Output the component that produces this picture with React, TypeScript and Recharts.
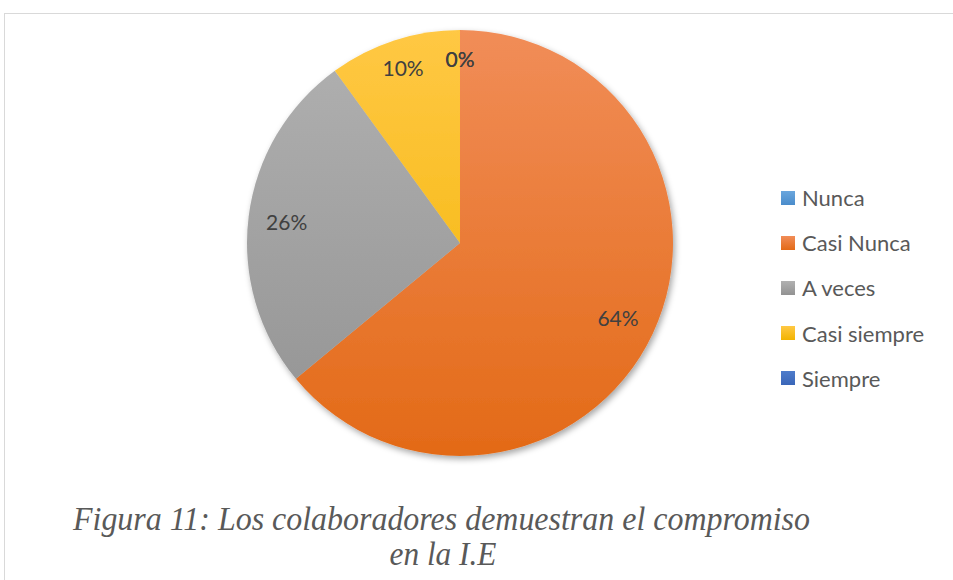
import { PieChart, Pie, Cell, Legend } from 'recharts'

const categories = ['Nunca', 'Casi Nunca', 'A veces', 'Casi siempre', 'Siempre']
const counts = [0, 32, 13, 5, 0]
const topColors = ['#6AA6DD', '#F18D58', '#B1B1B1', '#FFC844', '#4E7CCB']
const bottomColors = ['#4A8CCB', '#E36A17', '#929292', '#F2B300', '#3A66B8']
const captionLines = ['Figura 11: Los colaboradores demuestran el compromiso', 'en la I.E']

const data = categories.map((name, i) => ({ name, value: counts[i] }))

const RADIAN = Math.PI / 180

function renderLabel(props: any) {
  const { cx, cy, midAngle, outerRadius, percent } = props
  const r = percent < 0.15 ? outerRadius * 0.865 : outerRadius * 0.82
  const x = cx + r * Math.cos(-midAngle * RADIAN)
  const y = cy + r * Math.sin(-midAngle * RADIAN)
  return (
    <text
      x={x}
      y={y}
      fill="#404040"
      fontSize={21}
      fontFamily="Lato, sans-serif"
      textAnchor="middle"
      dominantBaseline="central"
    >
      {`${Math.round(percent * 100)}%`}
    </text>
  )
}

function LegendContent() {
  return (
    <div style={{ fontFamily: 'Lato, sans-serif', fontSize: 22, color: '#595959' }}>
      {categories.map((name, i) => (
        <div key={name} style={{ display: 'flex', alignItems: 'center', height: 45.2 }}>
          <span
            style={{
              width: 14,
              height: 14,
              marginRight: 7,
              background: `linear-gradient(${topColors[i]}, ${bottomColors[i]})`,
            }}
          />
          <span>{name}</span>
        </div>
      ))}
    </div>
  )
}

export default function App() {
  return (
    <div style={{ position: 'absolute', left: 0, top: 0, width: 953, height: 580, background: '#fff', overflow: 'hidden' }}>
      <style>{'.recharts-pie { filter: url(#pieShadow); }'}</style>
      <div
        style={{
          position: 'absolute',
          left: 4,
          top: 13,
          width: 980,
          height: 600,
          border: '1px solid #d9d9d9',
        }}
      />
      <PieChart
        width={953}
        height={580}
        margin={{ top: 0, right: 0, bottom: 0, left: 0 }}
        style={{ position: 'absolute', left: 0, top: 0 }}
      >
        <defs>
          {categories.map((name, i) => (
            <linearGradient key={name} id={`grad${i}`} x1="0" y1="30" x2="0" y2="456" gradientUnits="userSpaceOnUse">
              <stop offset="0%" stopColor={topColors[i]} />
              <stop offset="100%" stopColor={bottomColors[i]} />
            </linearGradient>
          ))}
          <filter id="pieShadow" x="-10%" y="-10%" width="125%" height="125%">
            <feDropShadow dx="2" dy="3" stdDeviation="3" floodColor="#000" floodOpacity="0.35" />
          </filter>
        </defs>
        <Pie
          data={data}
          dataKey="value"
          nameKey="name"
          cx={460}
          cy={243}
          outerRadius={213}
          startAngle={90}
          endAngle={-270}
          stroke="none"
          label={renderLabel}
          labelLine={false}
          isAnimationActive={false}
        >
          {data.map((d, i) => (
            <Cell key={d.name} fill={`url(#grad${i})`} />
          ))}
        </Pie>
        <Legend
          layout="vertical"
          align="right"
          verticalAlign="top"
          content={<LegendContent />}
          wrapperStyle={{ left: 781, top: 175, width: 170 }}
        />
      </PieChart>
      <svg width={953} height={580} style={{ position: 'absolute', left: 0, top: 0, pointerEvents: 'none' }}>
        <text
          x={441.5}
          y={530}
          textAnchor="middle"
          fontFamily="'Liberation Serif', serif"
          fontStyle="italic"
          fontSize={33}
          fill="#595959"
          textLength={737}
          lengthAdjust="spacingAndGlyphs"
        >
          {captionLines[0]}
        </text>
        <text
          x={443}
          y={565}
          textAnchor="middle"
          fontFamily="'Liberation Serif', serif"
          fontStyle="italic"
          fontSize={33}
          fill="#595959"
          textLength={107}
          lengthAdjust="spacingAndGlyphs"
        >
          {captionLines[1]}
        </text>
      </svg>
    </div>
  )
}
